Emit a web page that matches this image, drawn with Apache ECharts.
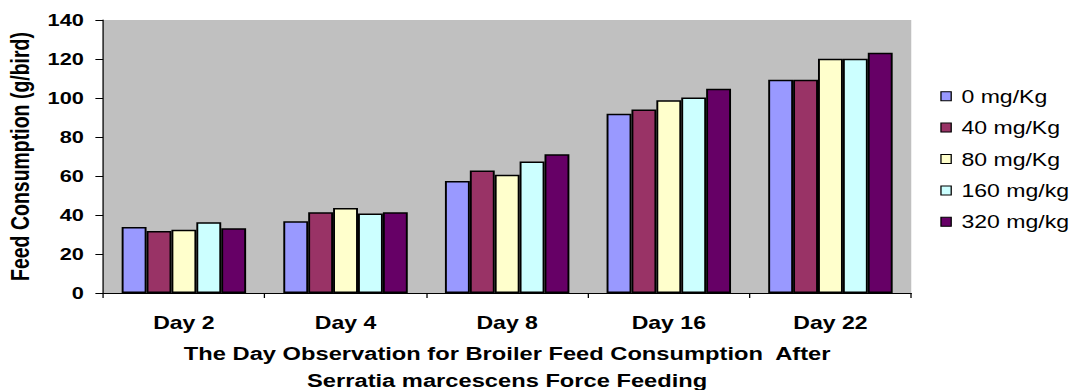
<!DOCTYPE html>
<html>
<head>
<meta charset="utf-8">
<script src="https://cdn.jsdelivr.net/npm/echarts@6/dist/echarts.min.js"></script>
<style>
  html, body { margin: 0; padding: 0; background: #fff; overflow: hidden; }
  /* chart is laid out narrower and widened horizontally to fill the page */
  #chart { width: 838px; height: 390px; transform: scaleX(1.2804); transform-origin: 0 0; }
</style>
</head>
<body>
<div id="chart"></div>
<script>
// Feed consumption per bird (g) by observation day and S. marcescens dose
const days = ['Day 2', 'Day 4', 'Day 8', 'Day 16', 'Day 22'];
const doseNames = ['0 mg/Kg', '40 mg/Kg', '80 mg/Kg', '160 mg/kg', '320 mg/kg'];
const dose0 = [33.9, 36.8, 57.5, 91.9, 109.4];
const dose40 = [31.8, 41.4, 62.8, 94.1, 109.4];
const dose80 = [32.5, 43.6, 60.6, 98.8, 120.1];
const dose160 = [36.3, 40.8, 67.4, 100.3, 120.1];
const dose320 = [33.2, 41.4, 71.2, 104.7, 123.2];
const yTicks = { min: 0, max: 140, interval: 20 };
const palette = ['#9999FF', '#993366', '#FFFFCC', '#CCFFFF', '#660066'];

const values = [dose0, dose40, dose80, dose160, dose320];
const font = 'Liberation Sans, Arial, sans-serif';

const chart = echarts.init(document.getElementById('chart'), null, { renderer: 'svg' });
chart.setOption({
  animation: false,
  color: palette,
  grid: {
    left: 80.5, right: 126.3, top: 20, bottom: 97,
    outerBoundsMode: 'none',
    show: true, backgroundColor: '#C0C0C0', borderWidth: 0
  },
  legend: {
    orient: 'vertical',
    left: 734.4, top: 85.2,
    padding: 0,
    itemWidth: 8, itemHeight: 9,
    itemGap: 9.4,
    icon: 'rect',
    itemStyle: { borderColor: '#000', borderWidth: 1 },
    textStyle: { fontFamily: font, fontSize: 18, color: '#000', lineHeight: 22, padding: [0, 0, 0, 3] },
    data: doseNames
  },
  xAxis: {
    type: 'category',
    data: days,
    axisLine: { lineStyle: { color: '#000', width: 1 } },
    axisTick: { show: true, length: 5, lineStyle: { color: '#000' } },
    axisLabel: { fontFamily: font, fontSize: 18, fontWeight: 'bold', color: '#000', margin: 20 },
    name: 'The Day Observation for Broiler Feed Consumption  After\nSerratia marcescens Force Feeding',
    nameLocation: 'middle',
    nameGap: 48,
    nameTextStyle: { fontFamily: font, fontSize: 18.5, fontWeight: 'bold', color: '#000', lineHeight: 26.5 }
  },
  yAxis: {
    type: 'value',
    min: yTicks.min, max: yTicks.max, interval: yTicks.interval,
    axisLine: { show: true, lineStyle: { color: '#000', width: 1 } },
    axisTick: { show: true, length: 6, lineStyle: { color: '#000' } },
    splitLine: { show: false },
    axisLabel: { fontFamily: font, fontSize: 17, fontWeight: 'bold', color: '#000', margin: 15 },
    name: 'Feed Consumption (g/bird)',
    nameLocation: 'middle',
    nameRotate: 90,
    nameGap: 54,
    nameTextStyle: { fontFamily: font, fontSize: 19.5, fontWeight: 'bold', color: '#000' }
  },
  series: doseNames.map((name, i) => ({
    name,
    type: 'bar',
    data: values[i],
    barGap: '0%',
    barCategoryGap: '23%',
    itemStyle: { color: palette[i], borderColor: '#000', borderWidth: 1.5 }
  }))
});
</script>
</body>
</html>
